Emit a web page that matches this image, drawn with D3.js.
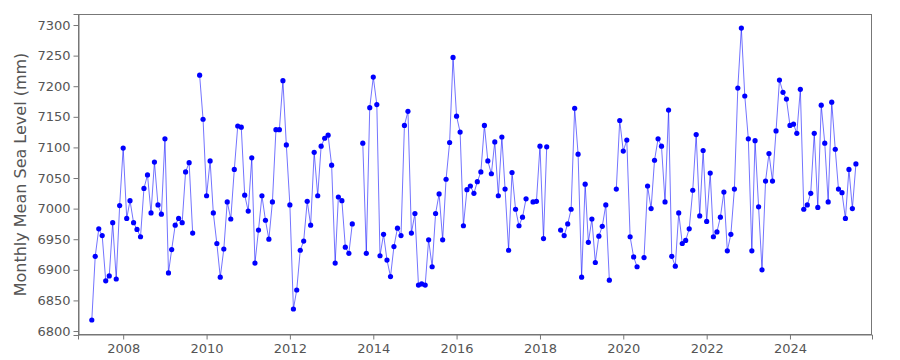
<!DOCTYPE html>
<html>
<head>
<meta charset="utf-8">
<script src="https://cdn.jsdelivr.net/npm/d3@7"></script>
<style>
  html, body { margin: 0; padding: 0; background: #fff; }
  svg { display: block; font-family: "DejaVu Sans", sans-serif; }
</style>
</head>
<body>
<svg id="chart" width="900" height="360"></svg>
<script>
// ---- data ----
const startYear = 2007;
const startMonth = 4; // April 2007
// monthly mean sea level (mm), null = missing month
const seaLevel = [
  6818, 6922, 6967, 6956, 6882, 6890, 6977, 6885, 7005, 7099,
  6984, 7013, 6977, 6966, 6954, 7033, 7055, 6993, 7076, 7006,
  6991, 7114, 6895, 6933, 6973, 6984, 6977, 7060, 7075, 6960,
  null, 7218, 7146, 7021, 7078, 6993, 6943, 6888, 6934, 7011,
  6983, 7064, 7135, 7133, 7022, 6996, 7083, 6911, 6965, 7021,
  6981, 6950, 7011, 7129, 7129, 7209, 7104, 7006, 6836, 6867,
  6932, 6947, 7012, 6973, 7092, 7021, 7102, 7115, 7120, 7071,
  6911, 7019, 7013, 6937, 6927, 6975, null, null, 7107, 6927,
  7165, 7215, 7170, 6923, 6958, 6916, 6889, 6938, 6968, 6956,
  7136, 7159, 6960, 6992, 6875, 6877, 6875, 6949, 6905, 6992,
  7024, 6949, 7048, 7108, 7247, 7151, 7125, 6972, 7031, 7037,
  7025, 7044, 7060, 7136, 7078, 7057, 7109, 7021, 7117, 7032,
  6932, 7059, 6999, 6972, 6986, 7016, null, 7011, 7012, 7102,
  6951, 7101, null, null, null, 6965, 6956, 6975, 6999, 7164,
  7089, 6888, 7040, 6945, 6983, 6912, 6955, 6971, 7006, 6883,
  null, 7032, 7144, 7094, 7112, 6954, 6921, 6905, null, 6920,
  7037, 7000, 7079, 7114, 7102, 7011, 7161, 6922, 6906, 6993,
  6943, 6948, 6967, 7030, 7121, 6988, 7095, 6979, 7058, 6954,
  6962, 6986, 7027, 6931, 6958, 7032, 7197, 7295, 7184, 7114,
  6931, 7111, 7003, 6900, 7045, 7090, 7045, 7127, 7210, 7190,
  7179, 7136, 7138, 7123, 7195, 6999, 7006, 7025, 7123, 7002,
  7169, 7107, 7011, 7174, 7097, 7032, 7026, 6984, 7064, 7000,
  7073
];
const yTicks = [6800, 6850, 6900, 6950, 7000, 7050, 7100, 7150, 7200, 7250, 7300];
const yTitle = "Monthly Mean Sea Level (mm)";

const records = seaLevel.map((v, i) => ({
  date: new Date(Date.UTC(startYear, startMonth - 1 + i, 1)),
  value: v
}));

// ---- layout ----
const svg = d3.select("#chart");
const pLeft = 78, pRight = 872, pTop = 14, pBottom = 335;

const x = d3.scaleUtc()
  .domain([new Date(Date.UTC(2006, 11, 1)), new Date(Date.UTC(2025, 11, 20))])
  .range([pLeft, pRight]);
const y = d3.scaleLinear()
  .domain([6793.5, 7318])
  .range([pBottom, pTop]);

// frame
svg.append("rect")
  .attr("x", pLeft + 0.5).attr("y", pTop + 0.5)
  .attr("width", pRight - pLeft - 1).attr("height", pBottom - pTop - 1)
  .attr("fill", "none").attr("stroke", "#777").attr("stroke-width", 1);

// axes
const xAxis = svg.append("g")
  .attr("transform", `translate(0,${pBottom - 0.5})`)
  .call(d3.axisBottom(x).ticks(d3.utcYear.every(2)).tickFormat(d3.utcFormat("%Y")).tickSize(5).tickPadding(4));
const yAxis = svg.append("g")
  .attr("transform", `translate(${pLeft + 0.5},0)`)
  .call(d3.axisLeft(y).tickValues(yTicks).tickFormat(d3.format("d")).tickSize(5).tickPadding(3));

[xAxis, yAxis].forEach(g => {
  g.select(".domain").attr("stroke", "#777");
  g.selectAll(".tick line").attr("stroke", "#777");
  g.selectAll(".tick text")
    .attr("fill", "#555")
    .style("font-family", "DejaVu Sans, sans-serif")
    .style("font-size", "13px");
});

// y title
svg.append("text")
  .attr("transform", `translate(26,${(pTop + pBottom) / 2}) rotate(-90)`)
  .attr("text-anchor", "middle")
  .attr("fill", "#555")
  .style("font-size", "16px")
  .text(yTitle);

// line
const line = d3.line()
  .defined(d => d.value !== null)
  .x(d => x(d.date))
  .y(d => y(d.value));

svg.append("path")
  .datum(records)
  .attr("fill", "none")
  .attr("stroke", "#0000ff")
  .attr("stroke-opacity", 0.55)
  .attr("stroke-width", 1)
  .attr("d", line);

// markers
svg.append("g")
  .selectAll("circle")
  .data(records.filter(d => d.value !== null))
  .join("circle")
  .attr("cx", d => x(d.date))
  .attr("cy", d => y(d.value))
  .attr("r", 2.6)
  .attr("fill", "#0000ff");
</script>
</body>
</html>
